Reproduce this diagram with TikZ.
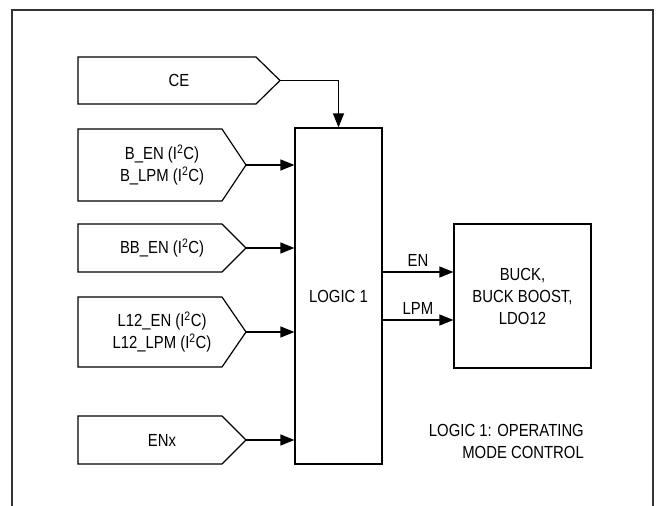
\documentclass[tikz,border=0pt]{standalone}
\usepackage{fontspec}
\setmainfont{Liberation Sans}[FakeStretch=0.85]
\usetikzlibrary{arrows.meta}
\tikzset{
  box/.style={draw=black, line width=1.2pt},
  lbl/.style={font=\fontsize{17.5}{22}\selectfont, align=center, inner sep=0pt},
  arr/.style={draw=black, line width=1.2pt, -{Triangle[length=14pt,width=11pt]}},
  frame/.style={draw=black!80, line width=1.8pt}
}
\newcommand\sigbox[6]{% name, left, tip x, top, bottom, text
  \draw[box] (#2,#4) -- ({#3-24},#4) -- (#3,{(#4+#5)/2}) -- ({#3-24},#5) -- (#2,#5) -- cycle;
  \coordinate (#1tip) at (#3,{(#4+#5)/2});
  \node[lbl] (#1) at ({(#2+#3)/2},{(#4+#5)/2}) {#6};
}
\begin{document}
\begin{tikzpicture}[x=1pt,y=-1pt]
\useasboundingbox[fill=white] (0,0) rectangle (657,506);
\draw[frame] (12,510) -- (12,10) -- (653,10) -- (653,510);

\sigbox{ce}{78}{280}{57}{104}{CE}
\sigbox{ben}{78}{246}{129}{201}{B\_EN (I\textsuperscript{2}C)\\B\_LPM (I\textsuperscript{2}C)}
\sigbox{bben}{78}{246}{224}{272}{BB\_EN (I\textsuperscript{2}C)}
\sigbox{lben}{78}{246}{297}{367}{L12\_EN (I\textsuperscript{2}C)\\L12\_LPM (I\textsuperscript{2}C)}
\sigbox{enx}{78}{246}{416}{464}{ENx}

\node[box, lbl, minimum width=87pt, minimum height=336pt] (logic) at (338.5,296) {LOGIC 1};
\node[box, lbl, minimum width=137pt, minimum height=144pt] (out) at (522.5,296) {BUCK,\\BUCK BOOST,\\LDO12};

\draw[arr] (cetip) -| (logic.north);
\draw[arr] (bentip) -- (bentip -| logic.west);
\draw[arr] (bbentip) -- (bbentip -| logic.west);
\draw[arr] (lbentip) -- (lbentip -| logic.west);
\draw[arr] (enxtip) -- (enxtip -| logic.west);

\draw[arr] ([yshift=24pt]logic.east) -- node[lbl, above=5pt] (enl) {EN} ([yshift=24pt]out.west);
\draw[arr] ([yshift=-24pt]logic.east) -- node[lbl, above=5pt] (lpml) {LPM} ([yshift=-24pt]out.west);

\node[lbl, align=right, anchor=east] (note) at (584,441) {LOGIC 1: OPERATING\\MODE CONTROL};
\end{tikzpicture}
\end{document}
